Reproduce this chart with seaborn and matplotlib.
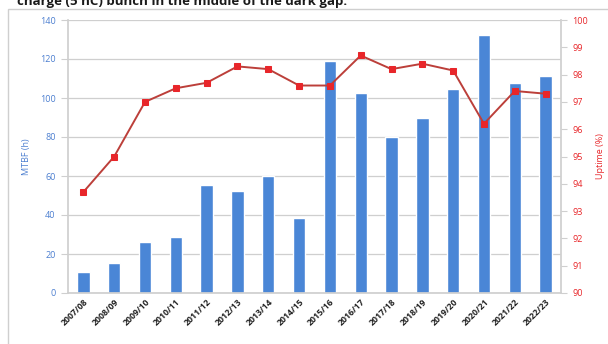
import matplotlib
matplotlib.use("Agg")
import matplotlib.pyplot as plt
import seaborn as sns
import pandas as pd
from matplotlib.patches import Rectangle

# Financial years
years = ["2007/08", "2008/09", "2009/10", "2010/11", "2011/12", "2012/13",
         "2013/14", "2014/15", "2015/16", "2016/17", "2017/18", "2018/19",
         "2019/20", "2020/21", "2021/22", "2022/23"]
# Mean time between failures (hours)
mtbf = [11, 15.4, 26, 28.7, 55.5, 52.5, 60, 38.5, 119, 102.8, 79.8, 90,
        104.4, 132.3, 107.5, 111.5]
# Machine uptime (%)
uptime = [93.7, 95.0, 97.0, 97.5, 97.7, 98.3, 98.2, 97.6, 97.6, 98.7, 98.2,
          98.4, 98.15, 96.2, 97.4, 97.3]

df = pd.DataFrame({"year": years, "mtbf": mtbf, "uptime": uptime})

sns.set_theme(style="white")
plt.rcParams["font.family"] = ["Open Sans", "DejaVu Sans"]

BLUE = "#4A86D6"
TICK_BLUE = "#4C7FD0"
RED = "#E8262A"
LINE_RED = "#BC3F3A"
GRID = "#CFCFCF"

fig = plt.figure(figsize=(6.08, 3.44), dpi=100)
ax = fig.add_axes([68 / 608, 1 - 293 / 344, (561 - 68) / 608, (293 - 20) / 344])

# caption line above the chart frame, running off the top edge
fig.text(17 / 608, 1 - 5 / 344, "charge (5 nC) bunch in the middle of the dark gap.",
         fontsize=9.5, fontweight="bold", color="#1a1a1a", ha="left", va="baseline")

# chart frame
fig.patches.append(Rectangle((7.5 / 608, -0.1), 1.2, 1 - 8.5 / 344 + 0.1,
                             transform=fig.transFigure, fill=False,
                             edgecolor="#CFCFCF", linewidth=1.0))

sns.barplot(data=df, x="year", y="mtbf", color=BLUE, width=0.4,
            saturation=1, ax=ax, zorder=2)
ax.set_ylim(0, 140)
ax.set_xlim(-0.5, len(years) - 0.5)
ax.set_yticks(range(0, 141, 20))
ax.yaxis.grid(True, color=GRID, linewidth=0.9, zorder=0)
ax.set_axisbelow(True)
ax.tick_params(axis="y", colors=TICK_BLUE, labelsize=6.5, length=5,
               width=0.8, pad=4)
ax.tick_params(axis="y", color=GRID)
ax.set_ylabel("MTBF (h)", color=TICK_BLUE, fontsize=6.5, labelpad=6)
ax.set_xlabel("")
ax.set_xticks([i + 0.5 for i in range(-1, len(years))], minor=True)
ax.set_xticks(range(len(years)))
ax.set_xticklabels(years, rotation=45, ha="right", rotation_mode="anchor",
                   fontsize=6.3, fontweight="bold", color="#222222")
ax.tick_params(axis="x", which="major", length=0, pad=3)
ax.tick_params(axis="x", which="minor", length=4, color=GRID, width=0.8)
for side in ["top", "right"]:
    ax.spines[side].set_visible(False)
ax.spines["left"].set_color(GRID)
ax.spines["bottom"].set_color(GRID)

ax2 = ax.twinx()
sns.lineplot(x=list(range(len(years))), y=df["uptime"], ax=ax2, color=LINE_RED,
             linewidth=1.4, marker="s", markersize=4.5, markerfacecolor=RED,
             markeredgecolor=RED, zorder=3)
ax2.set_ylim(90, 100)
ax2.set_yticks(range(90, 101))
ax2.tick_params(axis="y", colors=RED, labelsize=6.5, length=4, width=0.8, pad=4)
ax2.tick_params(axis="y", color=GRID)
ax2.set_ylabel("Uptime (%)", color=RED, fontsize=6.5, labelpad=6)
for side in ["top", "left", "bottom"]:
    ax2.spines[side].set_visible(False)
ax2.spines["right"].set_color(GRID)
ax2.grid(False)

fig.savefig("out.png", dpi=100)
